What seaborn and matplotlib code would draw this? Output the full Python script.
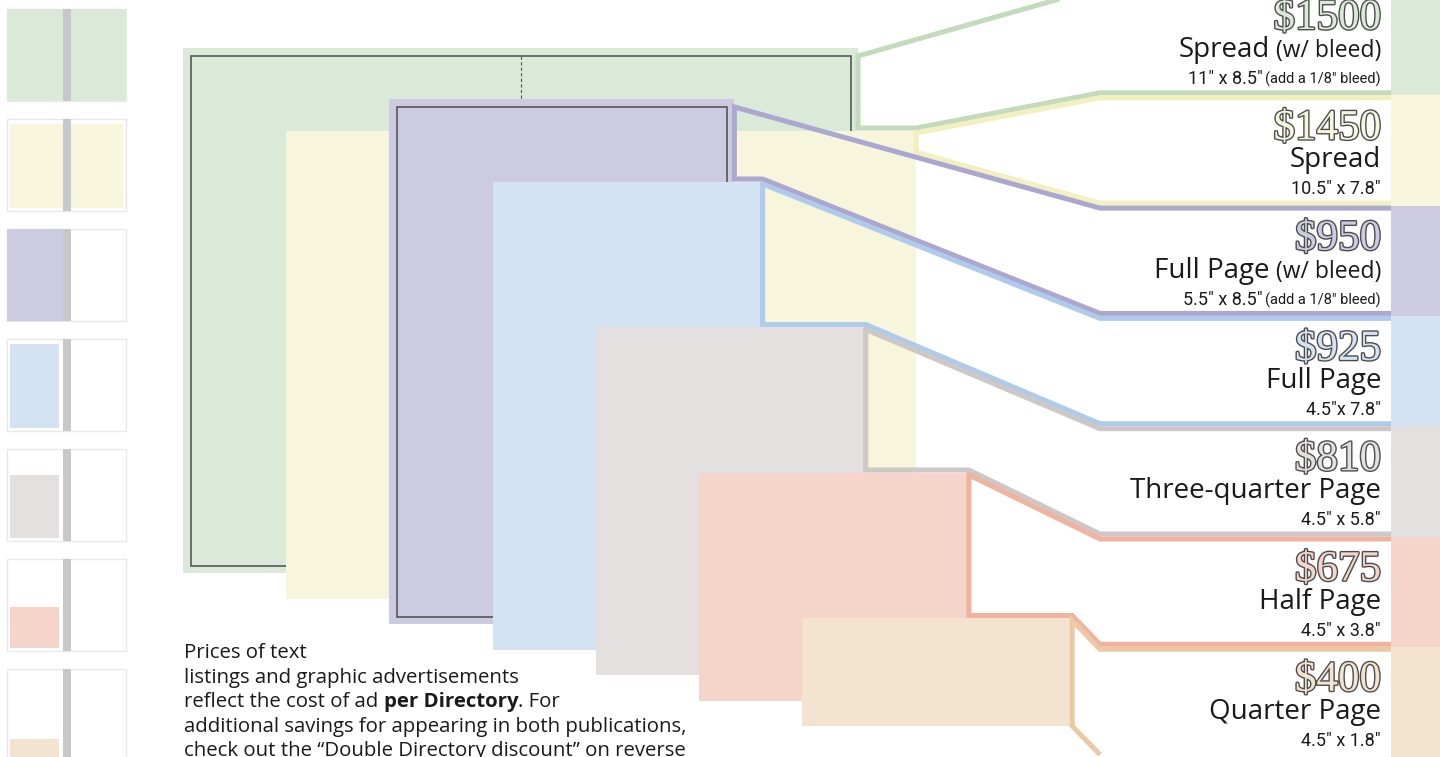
import matplotlib.pyplot as plt
import matplotlib.patheffects as pe
from matplotlib.patches import Rectangle
import seaborn as sns

# ad options, largest first
names = ["Spread", "Spread", "Full Page", "Full Page", "Three-quarter Page", "Half Page", "Quarter Page"]
name_notes = ["(w/ bleed)", "", "(w/ bleed)", "", "", "", ""]
prices = [1500, 1450, 950, 925, 810, 675, 400]
width_in = [11, 10.5, 5.5, 4.5, 4.5, 4.5, 4.5]
height_in = [8.5, 7.8, 8.5, 7.8, 5.8, 3.8, 1.8]
size_labels = ['11" x 8.5"', '10.5" x 7.8"', '5.5" x 8.5"', '4.5"x 7.8"', '4.5" x 5.8"', '4.5" x 3.8"', '4.5" x 1.8"']
size_notes = ['(add a 1/8" bleed)', "", '(add a 1/8" bleed)', "", "", "", ""]
bleed = [True, False, True, False, False, False, False]
pages = [2, 2, 1, 1, 1, 1, 1]

fills = ["#dbead8", "#f7f6dc", "#cdcbe2", "#d4e3f3", "#e4e0df", "#f5d5c9", "#f3e3cf"]
edges = ["#c3dbbd", "#f4efbf", "#aba7d0", "#aecbeb", "#cdc7c5", "#efb39f", "#ebc9a5"]

intro_lines = [
    [("Prices of text", "normal")],
    [("listings and graphic advertisements", "normal")],
    [("reflect the cost of ad ", "normal"), ("per Directory", "bold"), (". For", "normal")],
    [("additional savings for appearing in both publications,", "normal")],
    [("check out the \u201cDouble Directory discount\u201d on reverse", "normal")],
]

sns.set_theme(style="white")
plt.rcParams["font.family"] = ["Open Sans", "DejaVu Sans"]
colors = sns.color_palette(fills)
band_colors = sns.color_palette(edges)

fig = plt.figure(figsize=(14.4, 7.57), dpi=100)
ax = fig.add_axes([0, 0, 1, 1])
ax.set_xlim(0, 1440)
ax.set_ylim(757, 0)
ax.axis("off")
renderer = fig.canvas.get_renderer()

n = len(names)
PPI = 60.0          # px per inch in the big diagram
BLEED = 0.125

# --- big overlapping size diagram ---
rects = []
for i in range(n):
    w = (width_in[i] + (2 * BLEED if bleed[i] else 0)) * PPI
    h = (height_in[i] + (2 * BLEED if bleed[i] else 0)) * PPI
    left = 183 + 103.2 * i
    bottom = 573 + 25.5 * i
    top = bottom - h
    rects.append((left, top, left + w, bottom))
    ax.add_patch(Rectangle((left, top), w, h, facecolor=colors[i], edgecolor="none", zorder=2 + i * 0.1))
    if bleed[i]:
        m = BLEED * PPI
        ax.add_patch(Rectangle((left + m, top + m), w - 2 * m, h - 2 * m, facecolor="none",
                               edgecolor="#4a4d4a", lw=1.1, zorder=2 + i * 0.1 + 0.01))
        if pages[i] == 2:
            ax.plot([left + w / 2, left + w / 2], [top + m, bottom - m], color="#555555", lw=0.8,
                    linestyle=(0, (3, 2)), zorder=2 + i * 0.1 + 0.02)

# --- right-hand price panels with connector bands ---
PANEL_X = 1100
STRIP_X = 1391
TEXT_X = 1381
PITCH = 110.3
bounds = [-15 + PITCH * k for k in range(n + 1)]
GAP = 5

starts = []
for i in range(n):
    left, top, right, bottom = rects[i]
    starts.append((right, top + (8 if bleed[i] else 2.5)))

for i in range(n):
    left, top, right, bottom = rects[i]
    yt = bounds[i] + 2.5
    yb = bounds[i + 1] - 2.5
    ax.add_patch(Rectangle((STRIP_X, bounds[i]), 1440 - STRIP_X, bounds[i + 1] - bounds[i],
                           facecolor=colors[i], edgecolor="none", zorder=1))
    xs = [STRIP_X, PANEL_X, starts[i][0]]
    ys = [yt, yt, starts[i][1]]
    if i < n - 1:
        nx, ny = starts[i + 1][0], starts[i + 1][1] - GAP
        if nx > right:
            xs += [right, nx, PANEL_X, STRIP_X]
            ys += [ny, ny, yb, yb]
        else:
            yy = ny + (yb - ny) * (right - nx) / (PANEL_X - nx)
            xs += [right, PANEL_X, STRIP_X]
            ys += [yy, yb, yb]
    else:
        xs += [right, PANEL_X]
        ys += [bottom, yb]
    ax.plot(xs, ys, color=band_colors[i], lw=3.6, solid_joinstyle="miter", solid_capstyle="butt", zorder=5)


def runs_right(x, y, runs, gap):
    # place text pieces right to left, each ending where the previous one starts
    for txt, size, fam in reversed(runs):
        if not txt:
            continue
        t = ax.text(x, y, txt, ha="right", va="baseline", fontsize=size, family=fam,
                    color="#1a1a1a", zorder=6)
        x = t.get_window_extent(renderer).x0 - gap


narrow = ["Roboto", "DejaVu Sans"]
for i in range(n):
    b = bounds[i]
    ax.text(TEXT_X, b + 44, f"${prices[i]}", ha="right", va="baseline", fontsize=31,
            family=["Liberation Serif", "DejaVu Serif"], color=colors[i], zorder=6,
            path_effects=[pe.withStroke(linewidth=2.0, foreground="#4d4d4d")])
    runs_right(TEXT_X, b + 72, [(names[i], 20, ["Open Sans"]), (name_notes[i], 16.5, ["Open Sans"])], 6)
    runs_right(TEXT_X, b + 99, [(size_labels[i], 13, narrow), (size_notes[i], 10.5, narrow)], 3)

# --- thumbnails on the left ---
TH_X, TH_W, TH_H, TH_PITCH, TH_TOP = 7, 119, 92, 110, 9
scale = TH_H / 8.5
for i in range(n):
    top = TH_TOP + TH_PITCH * i
    ax.add_patch(Rectangle((TH_X, top), TH_W, TH_H, facecolor="white", edgecolor="#e9e9e9", lw=1, zorder=2))
    if bleed[i]:
        w = TH_W if pages[i] == 2 else TH_W / 2
        ax.add_patch(Rectangle((TH_X, top), w, TH_H, facecolor=colors[i], edgecolor="none", zorder=2.1))
    else:
        w = width_in[i] * scale
        h = height_in[i] * scale
        x = TH_X + (TH_W - w) / 2 if pages[i] == 2 else TH_X + 3
        ax.add_patch(Rectangle((x, top + TH_H - 3 - h), w, h, facecolor=colors[i], edgecolor="none", zorder=2.1))
    ax.add_patch(Rectangle((TH_X + TH_W / 2 - 4, top), 8, TH_H, facecolor="#c6c9cc", edgecolor="none", zorder=2.2))

# --- intro paragraph ---
y = 658
for line in intro_lines:
    x = 184
    for txt, weight in line:
        t = ax.text(x, y, txt, ha="left", va="baseline", fontsize=14.7, fontweight=weight,
                    color="#1a1a1a", zorder=6)
        x = t.get_window_extent(renderer).x1
    y += 24.6

fig.savefig("out.png", dpi=100)
